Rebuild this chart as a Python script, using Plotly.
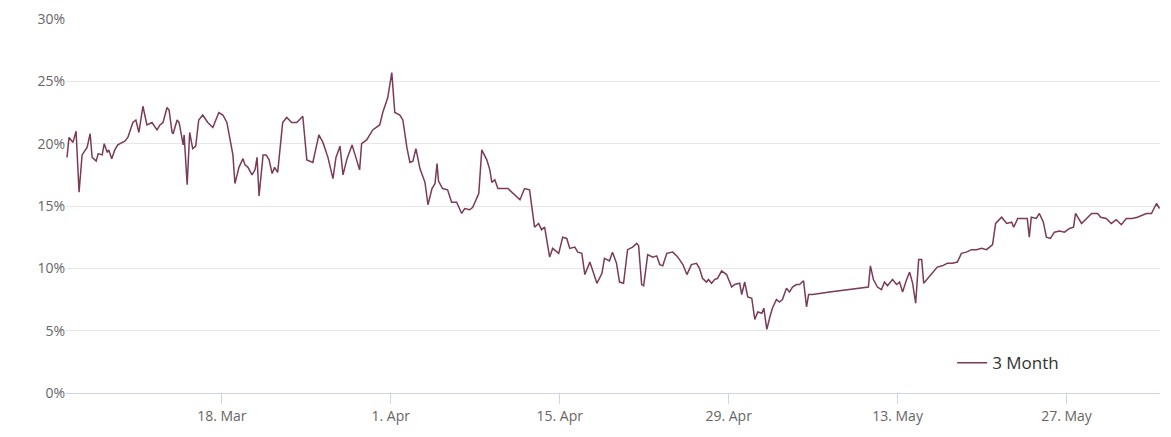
import plotly.graph_objects as go
import pandas as pd

start = "2024-03-05 02:00"
hours = [2,6,14,20,26,32,42,48,52,60,64,72,76,82,85,91,97,103,117,123,133,139,145,153,161,171,181,187,193,201,205,211,213,221,225,233,235,241,246,252,258,264,272,282,292,304,312,320,332,336,344,352,356,362,370,376,380,384,392,398,404,410,415,421,431,439,449,459,471,479,491,503,511,521,531,537,545,551,559,569,575,584,588,598,610,624,630,640,648,654,664,670,678,684,690,696,704,714,720,728,734,738,741,749,759,767,777,787,793,803,809,817,821,827,837,843,847,853,859,879,889,903,912,922,932,940,946,952,962,968,980,988,996,1002,1012,1018,1026,1032,1042,1048,1056,1066,1071,1081,1087,1095,1101,1109,1117,1127,1135,1139,1145,1149,1157,1167,1175,1181,1187,1195,1207,1217,1227,1235,1244,1254,1260,1266,
 1274,1278,1284,1290,1296,1304,1314,1324,1330,1340,1344,1350,1356,1364,1370,1376,1384,1388,1394,1400,1405,1413,1419,1425,1433,1439,1445,1453,1459,1467,1473,1477,1485,1519,1553,1596,1600,1606,1614,1622,1628,1634,1644,1652,1658,1664,1672,1678,1684,1690,1696,1702,1706,1714,1724,1733,1743,1753,1763,1773,1781,1791,1801,1811,1821,1831,1837,1843,1849,1861,1871,1881,1885,1893,1906,1912,1916,1920,1930,1936,1944,1950,1958,1966,1976,1986,1996,2004,2008,2020,2030,2040,2052,2058,2069,2079,2089,2099,2109,2121,2131,2149,2159,2169,2175]
values = [18.9,20.5,20.1,21.0,16.1,19.1,19.7,20.8,18.9,18.6,19.2,19.1,20.0,19.3,19.5,18.8,19.5,19.9,20.2,20.5,21.7,21.9,20.9,23.0,21.5,21.7,21.1,21.5,21.7,22.9,22.7,20.9,20.8,21.9,21.7,19.9,20.7,16.7,20.9,19.6,19.8,21.9,22.3,21.7,21.3,22.5,22.3,21.7,19.1,16.8,18.1,18.8,18.3,18.1,17.5,17.9,18.9,15.8,19.1,19.1,18.7,17.6,18.1,17.7,21.7,22.1,21.7,21.7,22.2,18.7,18.5,20.7,20.1,18.9,17.2,18.9,19.8,17.5,18.8,19.9,19.1,17.9,20.0,20.3,21.1,21.5,22.5,23.7,25.7,22.5,22.3,21.9,19.7,18.5,18.6,19.6,18.0,16.9,15.1,16.4,16.8,18.4,17.0,16.4,16.3,15.3,15.3,14.4,14.8,14.7,14.9,15.6,16.0,19.5,18.7,17.9,16.9,17.1,16.4,16.4,16.0,15.5,16.4,16.3,13.3,13.6,13.1,13.3,10.9,11.6,11.2,12.5,12.4,11.6,11.7,11.3,11.2,9.5,10.5,9.7,8.8,9.6,10.8,10.6,11.3,10.4,8.9,8.8,11.5,11.7,12.0,11.8,8.7,8.6,11.1,10.9,11.0,10.3,10.2,11.2,11.3,10.9,10.3,9.5,10.3,10.4,10.0,9.2,
 8.9,9.1,8.8,9.1,9.2,9.8,9.5,8.5,8.7,8.8,7.9,8.9,7.7,7.6,5.9,6.5,6.4,6.8,5.1,6.1,6.8,7.5,7.3,7.5,8.4,8.1,8.5,8.7,8.7,9.0,6.9,7.9,7.9,8.1,8.3,8.5,10.2,9.1,8.5,8.3,8.9,8.6,9.1,8.7,8.9,8.1,9.1,9.7,8.8,7.2,10.7,10.7,8.8,9.2,9.7,10.1,10.2,10.4,10.4,10.5,11.2,11.3,11.5,11.5,11.6,11.5,11.7,11.9,13.6,14.1,13.6,13.7,13.3,14.0,14.0,14.0,12.5,14.1,14.0,14.4,13.7,12.5,12.4,12.9,13.0,12.9,13.2,13.3,14.4,13.6,14.0,14.4,14.4,14.1,14.0,13.6,13.9,13.5,14.0,14.0,14.1,14.4,14.4,15.2,14.8]
series_name = "3 Month"
y_ticks = [0, 5, 10, 15, 20, 25, 30]
y_tick_labels = ["0%", "5%", "10%", "15%", "20%", "25%", "30%"]

t0 = pd.Timestamp(start)
dates = [t0 + pd.Timedelta(hours=h) for h in hours]

fig = go.Figure(go.Scatter(x=dates, y=values, mode="lines", name=series_name,
                           line=dict(color="#7b3b58", width=1.5)))
fig.update_layout(
    width=1171, height=437, margin=dict(l=58, r=19, t=11, b=52),
    paper_bgcolor="white", plot_bgcolor="white",
    font=dict(family="Open Sans", color="#666666", size=13),
    showlegend=True,
    legend=dict(x=0.81, y=0.08, xanchor="left", yanchor="middle",
                font=dict(size=17, color="#333333"), bgcolor="rgba(0,0,0,0)"),
)
fig.update_xaxes(range=[t0, t0 + pd.Timedelta(hours=2176)], automargin=False,
                 tickmode="linear", tick0="2024-03-18", dtick=14 * 86400000,
                 tickformat="%-d. %b", showgrid=False, showline=True,
                 linecolor="#ccd6eb", ticks="outside", ticklen=10, tickcolor="#ccd6eb",
                 tickfont=dict(size=14))
fig.update_yaxes(range=[0, 30], tickvals=y_ticks, ticktext=y_tick_labels, automargin=False,
                 gridcolor="#e6e6e6", zeroline=False, showline=False,
                 tickfont=dict(size=14))
fig.write_html("out.html")
